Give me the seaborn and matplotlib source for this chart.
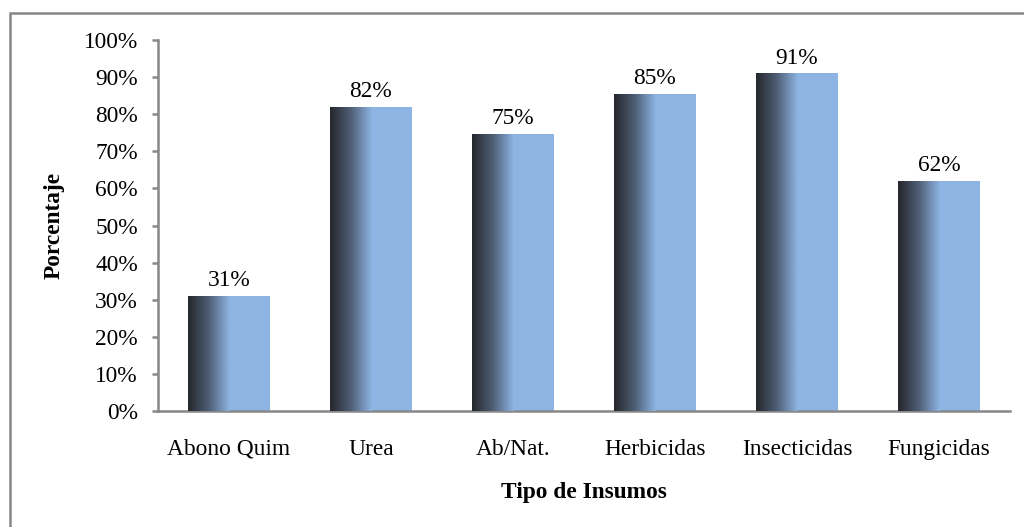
import numpy as np
import pandas as pd
import matplotlib
matplotlib.use('Agg')
import matplotlib.pyplot as plt
from matplotlib.colors import LinearSegmentedColormap
from matplotlib.patches import Rectangle
import seaborn as sns

# data
categories = ['Abono Quim', 'Urea', 'Ab/Nat.', 'Herbicidas', 'Insecticidas', 'Fungicidas']
percent = [31, 82, 74.7, 85.4, 91, 62]

LIGHT = '#8EB4E3'
DARK = '#25272B'
GRAY = '#878787'
FS = 16.8


def main():
    sns.set_theme(style='white')
    plt.rcParams['font.family'] = ['Liberation Serif', 'DejaVu Serif']

    df = pd.DataFrame({'insumo': categories, 'pct': percent})

    fig = plt.figure(figsize=(10.24, 5.27), dpi=100)
    ax = fig.add_axes([158 / 1024, 1 - 411 / 527, 852 / 1024, 371 / 527])

    sns.barplot(data=df, x='insumo', y='pct', color=LIGHT, saturation=1,
                width=0.58, ax=ax, zorder=2)

    # horizontal dark -> light gradient over the left half of each bar
    cmap = LinearSegmentedColormap.from_list('grad', [DARK, '#4F5F75', LIGHT])
    grad = np.linspace(0, 1, 256).reshape(1, -1)
    for p in ax.patches:
        x0, w, h = p.get_x(), p.get_width(), p.get_height()
        p.set_edgecolor('none')
        im = ax.imshow(grad, cmap=cmap, aspect='auto', interpolation='bilinear',
                       extent=(x0, x0 + w / 2, 0, h), zorder=3)
        im.set_clip_path(p)
        ax.text(x0 + w / 2, h + 1.3, f'{h:.0f}%', ha='center', va='bottom',
                fontsize=FS, color='black')

    ax.set_xlim(-0.5, len(categories) - 0.5)
    ax.set_ylim(0, 100)
    ax.set_yticks(range(0, 101, 10))
    ax.set_yticklabels([f'{v}%' for v in range(0, 101, 10)])

    for s in ['top', 'right']:
        ax.spines[s].set_visible(False)
    for s in ['left', 'bottom']:
        ax.spines[s].set_color(GRAY)
        ax.spines[s].set_linewidth(1.8)

    ax.tick_params(axis='y', left=True, length=4.5, width=1.8, color=GRAY,
                   labelsize=FS, pad=10)
    ax.tick_params(axis='x', bottom=False, labelsize=FS, pad=14)
    for lbl in ax.get_xticklabels() + ax.get_yticklabels():
        lbl.set_color('black')

    ax.set_xlabel('Tipo de Insumos', fontsize=FS, fontweight='bold',
                  labelpad=16, color='black')
    ax.set_ylabel('Porcentaje', fontsize=FS, fontweight='bold',
                  labelpad=14, color='black')

    # outer frame of the chart area
    fig.add_artist(Rectangle((10 / 1024, -0.2), 1.2, 1.2 - 13 / 527,
                             transform=fig.transFigure, fill=False,
                             edgecolor=GRAY, linewidth=1.8))

    fig.savefig('out.png', dpi=100, facecolor='white')


if __name__ == '__main__':
    main()
